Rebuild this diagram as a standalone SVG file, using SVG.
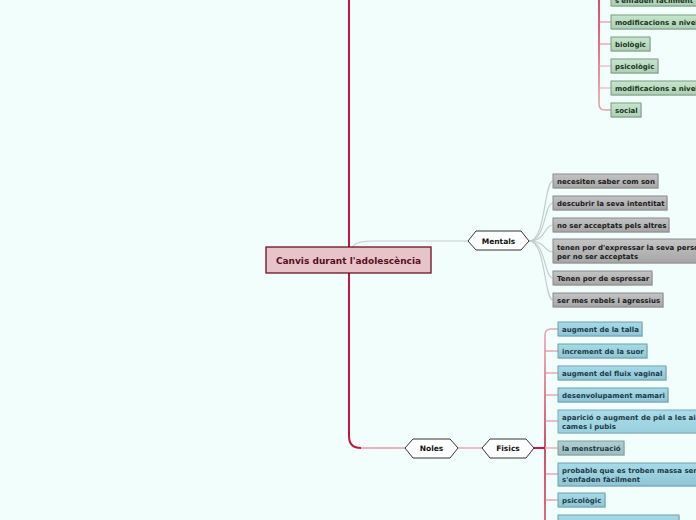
<svg xmlns="http://www.w3.org/2000/svg" width="696" height="520" viewBox="0 0 696 520">
<defs>
<linearGradient id="gGray" x1="0" y1="0" x2="0" y2="1"><stop offset="0" stop-color="#c4c4c4"/><stop offset="1" stop-color="#a6a6a6"/></linearGradient>
<linearGradient id="gBlue" x1="0" y1="0" x2="0" y2="1"><stop offset="0" stop-color="#a8dbe8"/><stop offset="1" stop-color="#8ec5d4"/></linearGradient>
<linearGradient id="gBlueL" x1="0" y1="0" x2="0" y2="1"><stop offset="0" stop-color="#a9dce8"/><stop offset="1" stop-color="#9ad0de"/></linearGradient>
<linearGradient id="gBlueS" x1="0" y1="0" x2="0" y2="1"><stop offset="0" stop-color="#b0cfd2"/><stop offset="1" stop-color="#9cbcc0"/></linearGradient>
<linearGradient id="gGreen" x1="0" y1="0" x2="0" y2="1"><stop offset="0" stop-color="#c6e6ce"/><stop offset="1" stop-color="#acd0b4"/></linearGradient>
<linearGradient id="lnTop" gradientUnits="userSpaceOnUse" x1="0" y1="0" x2="0" y2="112"><stop offset="0" stop-color="#c8153d"/><stop offset="0.4" stop-color="#d6435f"/><stop offset="1" stop-color="#eca0ae"/></linearGradient>
<linearGradient id="lnFis" gradientUnits="userSpaceOnUse" x1="0" y1="329" x2="0" y2="520"><stop offset="0" stop-color="#eaa2b0"/><stop offset="0.4" stop-color="#d84a66"/><stop offset="0.62" stop-color="#c8153d"/><stop offset="1" stop-color="#d43a58"/></linearGradient>
</defs>
<style>
text{font-family:"DejaVu Sans",Verdana,sans-serif;font-weight:bold;}
.t{font-size:7px;}
.hx{fill:#ffffff;stroke:#333333;stroke-width:1;}
.hxt{font-size:7.5px;fill:#111111;text-anchor:middle;}
.bg{fill:url(#gGray);stroke:#8a8a8a;stroke-width:1;}
.bb{fill:url(#gBlue);stroke:#6d9fae;stroke-width:1;}
.bgr{fill:url(#gGreen);stroke:#7b9a81;stroke-width:1;}
.sh{fill:#000;opacity:0.12;}
.tg{fill:#1a1a1a;}
.tb{fill:#1d3a47;}
.tgr{fill:#1a3520;}
.gray{fill:none;stroke:#c4cccc;stroke-width:1.2;}
.red{fill:none;stroke:#c8153d;stroke-width:2;}
.pink{fill:none;stroke:#e47a8c;stroke-width:1;}
.lpink{fill:none;stroke:#eca4b2;stroke-width:1;}
</style>
<rect width="696" height="520" fill="#f2fefc"/>
<g id="connectors">
<path class="red" d="M349,0 L349,436 Q349,448 361,448"/>
<path fill="none" stroke="#e06878" stroke-width="1.2" d="M361,448 L405,448"/>
<path class="gray" d="M352,248 C355,242 362,241 376,241 L468,241"/>
<path class="gray" d="M529,241 C546,241 544,181 553,181"/>
<path class="gray" d="M529,241 C546,241 544,203 553,203"/>
<path class="gray" d="M529,241 C546,241 544,225 553,225"/>
<path class="gray" d="M529,241 C546,241 544,252 553,252"/>
<path class="gray" d="M529,241 C546,241 544,278 553,278"/>
<path class="gray" d="M529,241 C546,241 544,300 553,300"/>
<path fill="none" stroke="#e8a4ae" stroke-width="1.5" d="M458,448 L482,448"/>
<path class="red" d="M534,448 L545,448"/>
<path fill="none" stroke="url(#lnFis)" stroke-width="1.5" d="M545,520 L545,335 Q545,329 551,329 L558,329"/>
<path class="pink" d="M545,351 L558,351 M545,373 L558,373 M545,395 L558,395 M545,421 L558,421 M545,474 L558,474 M545,500 L558,500"/>
<path fill="none" stroke="#eab0ba" stroke-width="1.5" d="M545,448 L558,448"/>
<path fill="none" stroke="url(#lnTop)" stroke-width="1.5" d="M599,0 L599,104 Q599,110 605,110 L611,110"/>
<path class="pink" d="M599,22 L611,22 M599,44 L611,44"/>
<path class="lpink" d="M599,66 L611,66 M599,88 L611,88"/>
</g>
<g id="central">
<rect x="266" y="247" width="165" height="26" fill="#e6c4ca" stroke="#6b1224" stroke-width="1.3"/>
<text x="348.5" y="264" font-size="9" fill="#5a0e1c" text-anchor="middle">Canvis durant l'adolescència</text>
</g>
<g id="mentals">
<polygon class="hx" points="468,241 476,231 521,231 529,241 521,250 476,250"/>
<text class="hxt" x="498.5" y="244">Mentals</text>
</g>
<g id="noles">
<polygon class="hx" points="405,448 413,439 450,439 458,448 450,458 413,458"/>
<text class="hxt" x="431.5" y="451">Noles</text>
</g>
<g id="fisics">
<polygon class="hx" points="482,448 490,439 526,439 534,448 526,458 490,458"/>
<text class="hxt" x="508" y="451">Fisics</text>
</g>
<g id="m1"><rect class="sh" x="554" y="175" width="105" height="14"/><rect class="bg" x="553" y="174" width="105" height="14"/><text class="t tg" x="557" y="184">necesiten saber com son</text></g>
<g id="m2"><rect class="sh" x="554" y="197" width="114" height="14"/><rect class="bg" x="553" y="196" width="114" height="14"/><text class="t tg" x="557" y="206">descubrir la seva intentitat</text></g>
<g id="m3"><rect class="sh" x="554" y="219" width="116" height="14"/><rect class="bg" x="553" y="218" width="116" height="14"/><text class="t tg" x="557" y="228">no ser acceptats pels altres</text></g>
<g id="m4"><rect class="sh" x="554" y="240" width="160" height="24"/><rect class="bg" x="553" y="239" width="160" height="24"/><text class="t tg" x="557" y="249.5">tenen por d'expressar la seva personalitat</text><text class="t tg" x="557" y="259">per no ser acceptats</text></g>
<g id="m5"><rect class="sh" x="554" y="272" width="99" height="14"/><rect class="bg" x="553" y="271" width="99" height="14"/><text class="t tg" x="557" y="281">Tenen por de espressar</text></g>
<g id="m6"><rect class="sh" x="554" y="294" width="110" height="14"/><rect class="bg" x="553" y="293" width="110" height="14"/><text class="t tg" x="557" y="303">ser mes rebels i agressius</text></g>
<g id="f1"><rect class="sh" x="559" y="323" width="84" height="14"/><rect class="bb" x="558" y="322" width="84" height="14"/><text class="t tb" x="562" y="332">augment de la talla</text></g>
<g id="f2"><rect class="sh" x="559" y="345" width="89" height="14"/><rect class="bb" x="558" y="344" width="89" height="14"/><text class="t tb" x="562" y="354">increment de la suor</text></g>
<g id="f3"><rect class="sh" x="559" y="367" width="108" height="14"/><rect class="bb" x="558" y="366" width="108" height="14"/><text class="t tb" x="562" y="376">augment del fluix vaginal</text></g>
<g id="f4"><rect class="sh" x="559" y="389" width="110" height="14"/><rect class="bb" x="558" y="388" width="110" height="14"/><text class="t tb" x="562" y="398">desenvolupament mamari</text></g>
<g id="f5"><rect class="sh" x="559" y="411" width="160" height="23"/><rect x="558" y="410" width="160" height="23" fill="url(#gBlueL)" stroke="#7aaab8"/><text class="t tb" x="562" y="419.5">aparició o augment de pèl a les aixelles,</text><text class="t tb" x="562" y="429">cames i pubis</text></g>
<g id="f6"><rect class="sh" x="559" y="442" width="66" height="14"/><rect x="558" y="441" width="66" height="14" fill="url(#gBlueS)" stroke="#7f9ea2"/><text class="t tb" x="562" y="451">la menstruació</text></g>
<g id="f7"><rect class="sh" x="559" y="464" width="160" height="23"/><rect class="bb" x="558" y="463" width="160" height="23"/><text class="t tb" x="562" y="472.5">probable que es troben massa sensibles i</text><text class="t tb" x="562" y="482">s'enfaden fàcilment</text></g>
<g id="f8"><rect class="sh" x="559" y="494" width="47" height="14"/><rect class="bb" x="558" y="493" width="47" height="14"/><text class="t tb" x="562" y="503">psicològic</text></g>
<g id="f9"><rect class="sh" x="559" y="516" width="121" height="14"/><rect class="bb" x="558" y="515" width="121" height="14"/></g>
<g id="g0"><rect class="sh" x="612" y="-16" width="120" height="23"/><rect class="bgr" x="611" y="-17" width="120" height="23"/><text class="t tgr" x="615" y="3">s'enfaden fàcilment</text></g>
<g id="g1"><rect class="sh" x="612" y="16" width="120" height="14"/><rect class="bgr" x="611" y="15" width="120" height="14"/><text class="t tgr" x="615" y="25">modificacions a nivell</text></g>
<g id="g2"><rect class="sh" x="612" y="38" width="39" height="14"/><rect class="bgr" x="611" y="37" width="39" height="14"/><text class="t tgr" x="615" y="47">biològic</text></g>
<g id="g3"><rect class="sh" x="612" y="60" width="47" height="14"/><rect class="bgr" x="611" y="59" width="47" height="14"/><text class="t tgr" x="615" y="69">psicològic</text></g>
<g id="g4"><rect class="sh" x="612" y="82" width="120" height="14"/><rect class="bgr" x="611" y="81" width="120" height="14"/><text class="t tgr" x="615" y="91">modificacions a nivell</text></g>
<g id="g5"><rect class="sh" x="612" y="104" width="30" height="14"/><rect class="bgr" x="611" y="103" width="30" height="14"/><text class="t tgr" x="615" y="113">social</text></g>
</svg>
